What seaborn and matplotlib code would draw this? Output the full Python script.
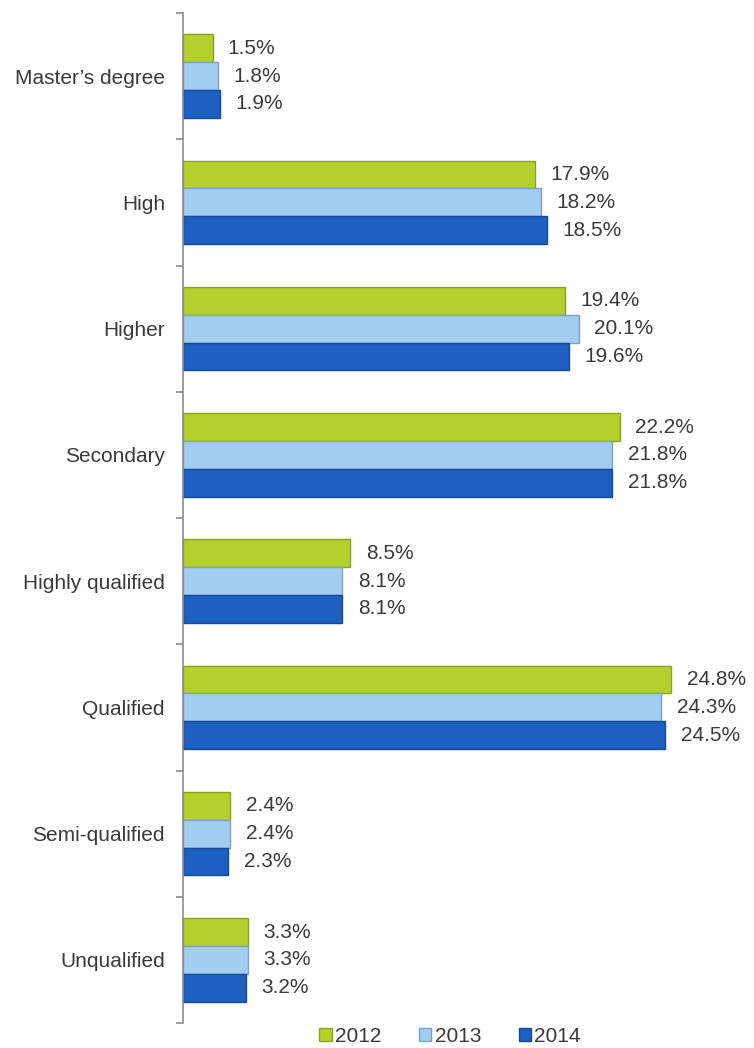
import matplotlib
matplotlib.use("Agg")
import matplotlib.pyplot as plt
import seaborn as sns
import pandas as pd
import numpy as np
from matplotlib.patches import Patch

categories = ["Master’s degree", "High", "Higher", "Secondary",
              "Highly qualified", "Qualified", "Semi-qualified", "Unqualified"]
years = ["2012", "2013", "2014"]
v2012 = [1.5, 17.9, 19.4, 22.2, 8.5, 24.8, 2.4, 3.3]
v2013 = [1.8, 18.2, 20.1, 21.8, 8.1, 24.3, 2.4, 3.3]
v2014 = [1.9, 18.5, 19.6, 21.8, 8.1, 24.5, 2.3, 3.2]

colors = {"2012": "#B4D02C", "2013": "#A3CDEE", "2014": "#1E5FC2"}
edges = {"2012": "#8AA31A", "2013": "#7AA3C4", "2014": "#144A9A"}

rows = []
for y, vals in zip(years, [v2012, v2013, v2014]):
    for c, v in zip(categories, vals):
        rows.append({"category": c, "year": y, "value": v})
df = pd.DataFrame(rows)

sns.set_theme(style="white")
plt.rcParams["font.family"] = ["Liberation Sans", "DejaVu Sans"]
text_color = "#3a3a3a"
fs = 15

fig = plt.figure(figsize=(7.54, 10.48), dpi=100)
ax = fig.add_axes([183 / 754, 1 - 1023 / 1048, 571 / 754, (1023 - 13) / 1048])

sns.barplot(data=df, y="category", x="value", hue="year", order=categories,
            hue_order=years, palette=colors, orient="h", width=0.66,
            ax=ax, legend=False, saturation=1)

for cont, y in zip(ax.containers, years):
    for bar in cont:
        bar.set_edgecolor(edges[y])
        bar.set_linewidth(1.0)
    ax.bar_label(cont, labels=[f"{v:.1f}%" for v in cont.datavalues],
                 padding=11, fontsize=fs, color=text_color)

ax.set_xlim(0, 29)
ax.set_ylim(len(categories) - 0.5, -0.5)
ax.set_xlabel("")
ax.set_ylabel("")
ax.set_xticks([])
for s in ["top", "right", "bottom"]:
    ax.spines[s].set_visible(False)
ax.spines["left"].set_color("#8c8c8c")
ax.spines["left"].set_linewidth(1.2)

ax.set_yticks(np.arange(len(categories)))
ax.set_yticklabels(categories, fontsize=fs, color=text_color)
ax.set_yticks(np.arange(len(categories) + 1) - 0.5, minor=True)
ax.tick_params(axis="y", which="major", length=0, pad=13)
ax.tick_params(axis="y", which="minor", length=5, width=1.2, color="#8c8c8c",
               direction="out", left=True)

handles = [Patch(facecolor=colors[y], edgecolor=edges[y], label=y) for y in years]
fig.legend(handles=handles, loc="center", bbox_to_anchor=(450 / 754, 1 - 1036 / 1048),
           ncol=3, frameon=False, fontsize=fs, handlelength=0.6, handleheight=0.6,
           handletextpad=0.15, columnspacing=1.8, labelcolor=text_color)

fig.savefig("out.png", dpi=100, facecolor="white")
